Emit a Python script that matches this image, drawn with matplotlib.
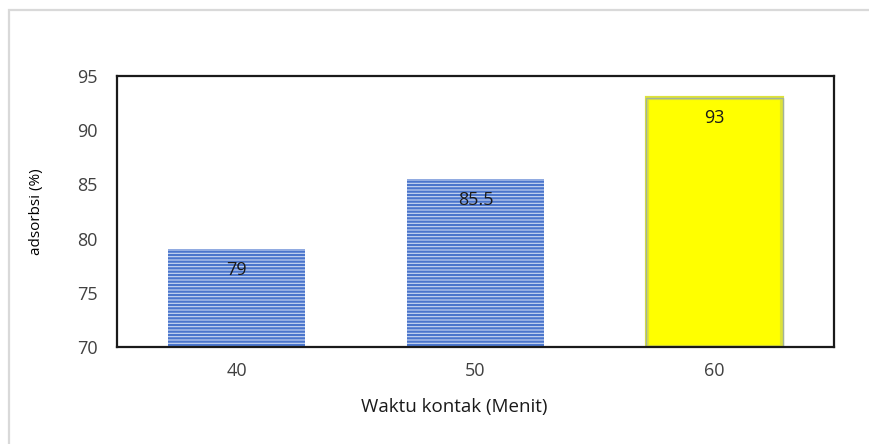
import matplotlib.pyplot as plt
from matplotlib.patches import Rectangle

waktu = ['40', '50', '60']
adsorbsi = [79, 85.5, 93]
label_teks = ['79', '85.5', '93']

plt.rcParams['font.family'] = ['Open Sans', 'DejaVu Sans']
plt.rcParams['hatch.linewidth'] = 1.6

fig = plt.figure(figsize=(8.69, 4.44), dpi=100)
ax = fig.add_axes([0.1346, 0.2185, 0.8251, 0.6104])

x = range(len(waktu))
base = 70
tinggi = [v - base for v in adsorbsi]

# two blue striped bars, one yellow
ax.bar(x[:2], tinggi[:2], bottom=base, width=0.57,
       facecolor='#cbd8f2', edgecolor='#4a75cc', hatch='-----', linewidth=0)
ax.bar(x[2], tinggi[2], bottom=base, width=0.565,
       facecolor='#ffff00', edgecolor='#dde23a', linewidth=3)
ax.bar(x[2], tinggi[2], bottom=base, width=0.57,
       facecolor='none', edgecolor='#a3b39a', linewidth=1.0)

for i, v in enumerate(adsorbsi):
    ax.text(i, v - 1.9, label_teks[i], ha='center', va='center',
            fontsize=13, color='#1a1a1a')

ax.set_xlim(-0.5, 2.5)
ax.set_ylim(70, 95)
ax.set_yticks([70, 75, 80, 85, 90, 95])
ax.set_xticks(list(x))
ax.set_xticklabels(waktu)
ax.tick_params(length=0, labelsize=13, labelcolor='#404040')
ax.tick_params(axis='y', pad=14)
ax.tick_params(axis='x', pad=11)
for s in ax.spines.values():
    s.set_linewidth(1.6)
    s.set_color('#1a1a1a')

ax.set_ylabel('adsorbsi (%)', fontsize=11, color='#000000', labelpad=24)
ax.set_xlabel('Waktu kontak (Menit)', fontsize=13.5, color='#1a1a1a')
ax.xaxis.set_label_coords(0.471, -0.19)

# light frame around the chart area
fig.patches.append(Rectangle((8.5 / 869, -0.1), 1.2, 1.1 - 10.5 / 444,
                             transform=fig.transFigure, fill=False,
                             edgecolor='#d9d9d9', linewidth=1.6))

fig.savefig('out.png', dpi=100)
